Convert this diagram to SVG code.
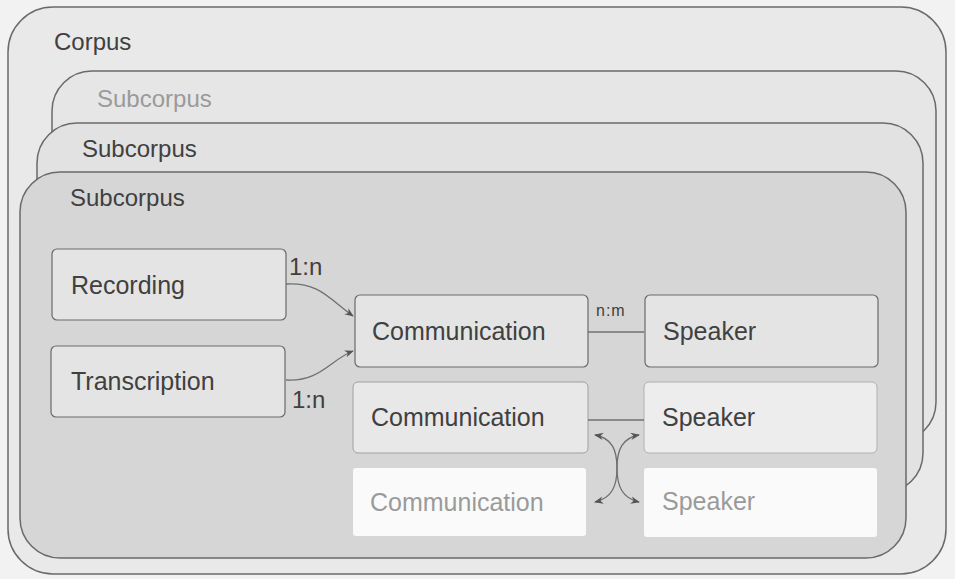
<svg xmlns="http://www.w3.org/2000/svg" width="955" height="579" viewBox="0 0 955 579">
<style>
.cont{stroke:#6a6a6a;stroke-width:1.5}
.t{font-family:"Liberation Sans",Arial,sans-serif;fill:#404040}
.hd{font-size:24px}
.node{fill:#e4e4e4;stroke:#6a6a6a;stroke-width:1.2}
.lbl{font-size:25px}
.conn{fill:none;stroke:#707070;stroke-width:1.3}
</style>
<defs>
<marker id="ah" viewBox="0 0 10 10" refX="9" refY="5" markerWidth="7" markerHeight="7" orient="auto-start-reverse"><path d="M0,1 L10,5 L0,9 L3,5 z" fill="#555"/></marker>
</defs>
<rect width="955" height="579" fill="#f2f2f2"/>
<g id="corpus"><rect x="8" y="7" width="938" height="567" rx="45" fill="#e9e9e9" class="cont"/><text x="54" y="50" class="t hd">Corpus</text></g>
<g id="subcorpus1"><rect x="52" y="71" width="884" height="371" rx="40" fill="#e6e6e6" class="cont"/><text x="97" y="107" class="t hd" style="fill:#9a9a9a">Subcorpus</text></g>
<g id="subcorpus2"><rect x="37" y="123" width="886" height="370" rx="40" fill="#e2e2e2" class="cont"/><text x="82" y="157" class="t hd">Subcorpus</text></g>
<g id="subcorpus3"><rect x="20" y="172" width="886" height="386" rx="40" fill="#d6d6d6" class="cont"/><text x="70" y="206" class="t hd">Subcorpus</text></g>
<g id="recording"><rect x="52" y="249" width="234" height="71" rx="5" class="node"/><text x="71" y="294" class="t lbl">Recording</text></g>
<g id="transcription"><rect x="51" y="346" width="234" height="71" rx="5" class="node"/><text x="71" y="390" class="t lbl">Transcription</text></g>
<g id="communication1"><rect x="355" y="295" width="233" height="72" rx="5" class="node"/><text x="372" y="340" class="t lbl">Communication</text></g>
<g id="communication2"><rect x="353" y="382" width="235" height="71" rx="5" fill="#e8e8e8" stroke="#a0a0a0" stroke-width="1"/><text x="371" y="426" class="t lbl">Communication</text></g>
<g id="communication3"><rect x="353" y="468" width="233" height="68" rx="3" fill="#fafafa"/><text x="370" y="511" class="t lbl" style="fill:#9a9a9a">Communication</text></g>
<g id="speaker1"><rect x="645" y="295" width="233" height="72" rx="5" class="node"/><text x="663" y="340" class="t lbl">Speaker</text></g>
<g id="speaker2"><rect x="644" y="382" width="233" height="71" rx="5" fill="#ededed" stroke="#b0b0b0" stroke-width="1"/><text x="662" y="426" class="t lbl">Speaker</text></g>
<g id="speaker3"><rect x="644" y="468" width="233" height="69" rx="3" fill="#fafafa"/><text x="662" y="510" class="t lbl" style="fill:#9a9a9a">Speaker</text></g>
<g id="connectors">
<path class="conn" d="M286,284 C320,282 330,300 353,316" marker-end="url(#ah)"/>
<path class="conn" d="M286,380 C320,382 330,360 353,351" marker-end="url(#ah)"/>
<path class="conn" d="M588,332 L644,332"/>
<path class="conn" d="M588,420 L644,420"/>
<path class="conn" d="M595,435 C612,438 617,450 617,468 C617,486 622,498 639,502" marker-start="url(#ah)" marker-end="url(#ah)"/>
<path class="conn" d="M639,435 C622,438 617,450 617,468 C617,486 612,498 595,502" marker-start="url(#ah)" marker-end="url(#ah)"/>
<text x="289" y="275" class="t" font-size="24">1:n</text>
<text x="292" y="408" class="t" font-size="24">1:n</text>
<text x="596" y="316" class="t" font-size="16" letter-spacing="1">n:m</text>
</g>
</svg>
